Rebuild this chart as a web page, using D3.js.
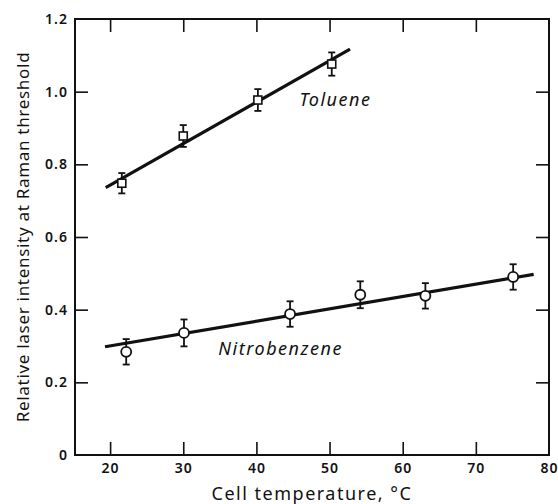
<!DOCTYPE html>
<html lang="en">
<head>
    <meta charset="UTF-8">
    <title>Raman threshold vs cell temperature</title>
    <script src="https://cdn.jsdelivr.net/npm/d3@7/dist/d3.min.js"></script>
    <style>
        body { margin: 0; background: #fff; }
        text { font-family: "Noto Sans", "DejaVu Sans", sans-serif; fill: #111; }
    </style>
</head>
<body>
<script>
    // canvas size
    const width = 558;
    const height = 504;
    const margin = {top: 19, right: 9, bottom: 49, left: 75};

    // toluene (squares)
    const tolX = [21.6, 30.0, 40.2, 50.3];
    const tolY = [0.748, 0.878, 0.977, 1.076];
    const tolErr = [0.028, 0.03, 0.03, 0.032];
    const tolFit = [[19.4, 0.736], [52.8, 1.117]];

    // nitrobenzene (circles)
    const nitX = [22.2, 30.1, 44.6, 54.2, 63.1, 75.1];
    const nitY = [0.284, 0.336, 0.388, 0.441, 0.438, 0.49];
    const nitErr = [0.035, 0.037, 0.035, 0.037, 0.035, 0.035];
    const nitFit = [[19.3, 0.298], [77.9, 0.497]];

    const xTicks = [20, 30, 40, 50, 60, 70, 80];
    const yTicks = [0, 0.2, 0.4, 0.6, 0.8, 1.0, 1.2];

    let svg = d3.select('body')
        .append('svg')
        .attr('width', width)
        .attr('height', height);

    let x = d3.scaleLinear()
        .domain([15.2, 80])
        .range([margin.left, width - margin.right]);
    let y = d3.scaleLinear()
        .domain([0, 1.2])
        .range([height - margin.bottom, margin.top]);

    const tickLen = 13;

    // axes, ticks drawn inward on all four sides
    svg.append('g')
        .attr('transform', `translate(0, ${y(0)})`)
        .call(d3.axisBottom(x).tickValues(xTicks).tickSize(-tickLen).tickPadding(8).tickFormat(d3.format('d')))
        .call(g => g.selectAll('.tick').filter(d => d === 80).select('line').remove());
    svg.append('g')
        .attr('transform', `translate(0, ${y(1.2)})`)
        .call(d3.axisTop(x).tickValues(xTicks.filter(d => d < 80)).tickSize(-tickLen).tickFormat(''));
    svg.append('g')
        .attr('transform', `translate(${x.range()[0]}, 0)`)
        .call(d3.axisLeft(y).tickValues(yTicks).tickSize(-tickLen).tickPadding(7)
            .tickFormat(d => d === 0 ? '0' : d3.format('.1f')(d)))
        .call(g => g.selectAll('.tick').filter(d => d === 0 || d === 1.2).select('line').remove());
    svg.append('g')
        .attr('transform', `translate(${x.range()[1]}, 0)`)
        .call(d3.axisRight(y).tickValues(yTicks.filter(d => d > 0 && d < 1.2)).tickSize(-tickLen).tickFormat(''));

    svg.selectAll('.domain').remove();
    svg.selectAll('.tick line').attr('stroke', '#111').attr('stroke-width', 1.6);
    svg.selectAll('.tick text')
        .style('font-size', '14px')
        .style('font-weight', '600')
        .style('letter-spacing', '1px')
        .attr('fill', '#111');

    // frame
    svg.append('rect')
        .attr('x', x.range()[0])
        .attr('y', y(1.2))
        .attr('width', x.range()[1] - x.range()[0])
        .attr('height', y(0) - y(1.2))
        .attr('fill', 'none')
        .attr('stroke', '#111')
        .attr('stroke-width', 2);

    // fitted lines
    let line = d3.line().x(d => x(d[0])).y(d => y(d[1]));
    [tolFit, nitFit].forEach(f => {
        svg.append('path')
            .attr('d', line(f))
            .attr('fill', 'none')
            .attr('stroke', '#111')
            .attr('stroke-width', 3.2);
    });

    // error bars
    function errorBars(xs, ys, es) {
        let g = svg.append('g').attr('stroke', '#111').attr('stroke-width', 1.8);
        xs.forEach((v, i) => {
            const cx = x(v), y1 = y(ys[i] + es[i]), y2 = y(ys[i] - es[i]);
            g.append('line').attr('x1', cx).attr('x2', cx).attr('y1', y1).attr('y2', y2);
            g.append('line').attr('x1', cx - 3.5).attr('x2', cx + 3.5).attr('y1', y1).attr('y2', y1);
            g.append('line').attr('x1', cx - 3.5).attr('x2', cx + 3.5).attr('y1', y2).attr('y2', y2);
        });
    }
    errorBars(tolX, tolY, tolErr);
    errorBars(nitX, nitY, nitErr);

    // markers
    svg.selectAll('.sq')
        .data(tolX)
        .enter()
        .append('rect')
        .attr('x', (d) => x(d) - 4)
        .attr('y', (d, i) => y(tolY[i]) - 4)
        .attr('width', 8)
        .attr('height', 8)
        .attr('fill', '#fff')
        .attr('stroke', '#111')
        .attr('stroke-width', 1.6);

    svg.selectAll('.ci')
        .data(nitX)
        .enter()
        .append('circle')
        .attr('cx', d => x(d))
        .attr('cy', (d, i) => y(nitY[i]))
        .attr('r', 5)
        .attr('fill', '#fff')
        .attr('stroke', '#111')
        .attr('stroke-width', 1.8);

    // curve labels
    svg.append('text')
        .attr('x', x(45.9))
        .attr('y', y(0.96))
        .style('font-size', '18px')
        .style('font-style', 'italic')
        .style('letter-spacing', '1.5px')
        .text('Toluene');
    svg.append('text')
        .attr('x', x(34.8))
        .attr('y', y(0.275))
        .style('font-size', '18px')
        .style('font-style', 'italic')
        .style('letter-spacing', '1.5px')
        .text('Nitrobenzene');

    // axis titles
    svg.append('text')
        .attr('x', (x.range()[0] + x.range()[1]) / 2)
        .attr('y', height - 4)
        .attr('text-anchor', 'middle')
        .style('font-size', '18px')
        .style('letter-spacing', '1.5px')
        .text('Cell temperature, °C');
    svg.append('text')
        .attr('transform', `translate(29, ${(y(0) + y(1.2)) / 2}) rotate(-90)`)
        .attr('text-anchor', 'middle')
        .style('font-size', '17px')
        .style('letter-spacing', '0.7px')
        .text('Relative laser intensity at Raman threshold');
</script>
</body>
</html>
